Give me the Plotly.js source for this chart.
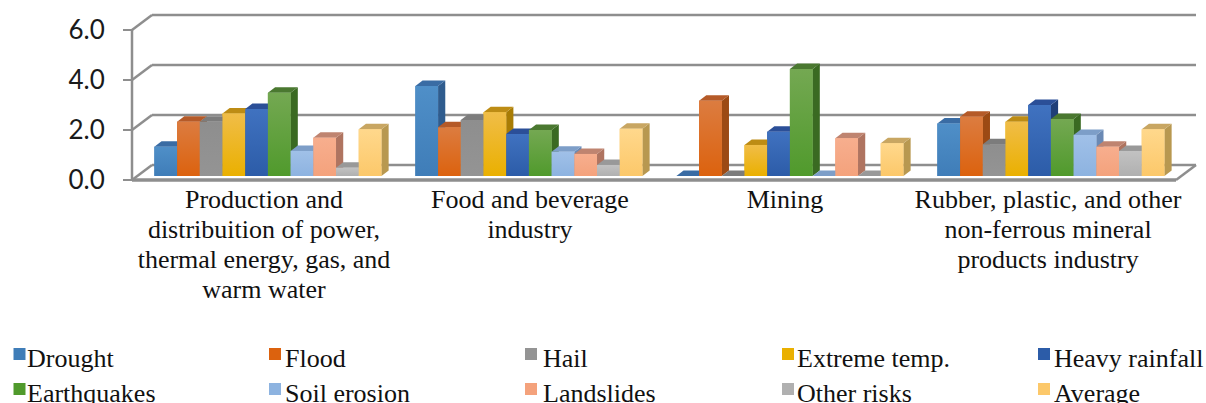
<!DOCTYPE html>
<html>
<head>
<meta charset="utf-8">
<script src="https://cdn.plot.ly/plotly-3.0.1.min.js"></script>
<style>html,body{margin:0;padding:0;background:#fff;overflow:hidden}#chart{width:1206px;height:403px}</style>
</head>
<body>
<div id="chart"></div>
<script>
// Industries along the horizontal axis, one array entry per label line
const categoryLines = [
  ["Production and", "distribuition of power,", "thermal energy, gas, and", "warm water"],
  ["Food and beverage", "industry"],
  ["Mining"],
  ["Rubber, plastic, and other", "non-ferrous mineral", "products industry"]
];
const seriesNames = ["Drought", "Flood", "Hail", "Extreme temp.", "Heavy rainfall",
                     "Earthquakes", "Soil erosion", "Landslides", "Other risks", "Average"];

// Risk scores per industry
const drought      = [1.17, 3.60, 0.00, 2.10];
const flood        = [2.17, 1.95, 3.01, 2.37];
const hail         = [2.17, 2.24, 0.00, 1.27];
const extremeTemp  = [2.50, 2.55, 1.24, 2.17];
const heavyRainfall= [2.68, 1.68, 1.77, 2.84];
const earthquakes  = [3.33, 1.84, 4.28, 2.28];
const soilErosion  = [1.00, 0.97, 0.00, 1.64];
const landslides   = [1.53, 0.88, 1.51, 1.17];
const otherRisks   = [0.33, 0.44, 0.00, 1.00];
const average      = [1.87, 1.89, 1.31, 1.87];
const allSeries = [drought, flood, hail, extremeTemp, heavyRainfall,
                   earthquakes, soilErosion, landslides, otherRisks, average];

const yTicks = [0, 2, 4, 6];

// Face colours of each column: front gradient (top, bottom), roof, right side
const frontTop    = ["#4f8fc8","#dc7c40","#8e8e8e","#f0bd48","#4072c0","#74a852","#a0c0e8","#f7ae8e","#c2c2c2","#ffd88c"];
const frontBottom = ["#3f7db8","#dc620e","#949494","#eab000","#2c5ca8","#509a2c","#8db3e0","#f4a27c","#b0b0b0","#fcc86a"];
const roofColor   = ["#3a6ca4","#b55a28","#7c7c7c","#bd8c14","#2b4f98","#4a7830","#7d9ec8","#bf8470","#999999","#c8a662"];
const sideColor   = ["#2f5c8e","#9c4a14","#696969","#a87c04","#1f3e78","#3a6a22","#6a89b4","#af7460","#8a8a8a","#b89850"];

const GRID = "#8e8e8e";
const PITCH = 261;               // horizontal pixels per category slot
const depthX = 20 / PITCH;       // skew of the full floor depth, in x units
const depthY = 0.6;              // skew of the full floor depth, in y units
const z0 = 0.27, z1 = 0.63;      // front and back planes of the columns
const barW = 0.087;
const px = v => v / 1206, py = v => 1 - v / 403;

const skewX = z => z * depthX, skewY = z => z * depthY;

// Wall and floor outlines, projected from the same skew as the columns
const shapes = [];
const seg = (x0, y0, x1, y1, w) => shapes.push({type:"line", layer:"below", xref:"x", yref:"y",
  x0, y0, x1, y1, line:{color:GRID, width:w}});
const xEnd = 4;
yTicks.forEach(t => {
  seg(0, t, skewX(1), t + skewY(1), 2.5);
  seg(skewX(1), t + skewY(1), xEnd + skewX(1), t + skewY(1), 2.5);
});
seg(0, 0, 0, 6, 2.5);
seg(0, 0, xEnd, 0, 3.5);
seg(xEnd, 0, xEnd + skewX(1), skewY(1), 2.5);

const traces = [];
// Real bar traces hold the values; the projected faces are laid over them below
allSeries.forEach((vals, s) => {
  traces.push({type:"bar", name:seriesNames[s], showlegend:false,
    x: vals.map((_, c) => c + 0.5 + skewX(z0)),
    y: vals,
    base: skewY(z0),
    marker:{color:frontBottom[s], line:{width:0}},
    hovertemplate: seriesNames[s] + ": %{y:.2f}<extra></extra>"});
});

const face = (xs, ys, extra) => traces.push(Object.assign({type:"scatter", mode:"lines", x:xs, y:ys,
  fill:"toself", line:{width:0}, showlegend:false, hoverinfo:"skip"}, extra));

// Painter's order: left to right, so a column hides the side of its left neighbour
categoryLines.forEach((_, c) => {
  allSeries.forEach((vals, s) => {
    const v = vals[c];
    const left = c + 0.5 + skewX(z0) + (s - 5) * barW, right = left + barW;
    const y0 = skewY(z0), yTop = y0 + v;
    const dx = skewX(z1 - z0), dy = skewY(z1 - z0);
    if (v > 0) face([right, right + dx, right + dx, right, right],
                    [y0, y0 + dy, yTop + dy, yTop, y0], {fillcolor:sideColor[s]});
    face([left, right, right + dx, left + dx, left],
         [yTop, yTop, yTop + dy, yTop + dy, yTop], {fillcolor:roofColor[s]});
    if (v > 0) face([left, right, right, left, left], [y0, y0, yTop, yTop, y0],
      {fillcolor:frontBottom[s], fillgradient:{type:"vertical",
        colorscale:[[0, frontBottom[s]], [1, frontTop[s]]]}});
  });
});

// Two-row legend laid out by hand for its wide column spacing
const legendSwatchX = [13.5, 269, 525, 782, 1038];
const legendTextX = [25, 283, 541, 795, 1052];
const legendSwatchY = [348, 383];
const legendTextY = [358, 393.5];
const annotations = [];
seriesNames.forEach((name, s) => {
  const col = s % 5, row = Math.floor(s / 5);
  shapes.push({type:"rect", xref:"paper", yref:"paper",
    x0:px(legendSwatchX[col]), x1:px(legendSwatchX[col] + 12),
    y0:py(legendSwatchY[row] + 12), y1:py(legendSwatchY[row]),
    fillcolor:frontBottom[s], line:{width:0}});
  annotations.push({xref:"paper", yref:"paper", x:px(legendTextX[col]), y:py(legendTextY[row]),
    xanchor:"left", yanchor:"middle", showarrow:false, text:name,
    font:{family:"Liberation Serif", size:26, color:"#111"}});
});

const layout = {
  width:1206, height:403, margin:{l:0, r:0, t:0, b:0, pad:0},
  paper_bgcolor:"#fff", plot_bgcolor:"rgba(0,0,0,0)",
  barmode:"group", bargap:0.13, bargroupgap:0, showlegend:false,
  xaxis:{domain:[px(128), 1], range:[-4/PITCH, (1206-132)/PITCH], showgrid:false, zeroline:false,
    showline:false, ticks:"", tickmode:"array",
    tickvals:[(264-132)/PITCH, (530-132)/PITCH, (785-132)/PITCH, (1048-132)/PITCH],
    ticktext:categoryLines.map(lines => lines.map(l => '<span style="font-size:26px">' + l + '</span>').join("<br>")),
    tickfont:{family:"Liberation Serif", size:23, color:"#111"}, tickangle:0, ticklabelstandoff:-1, automargin:false},
  yaxis:{domain:[py(185), py(10)], range:[-0.2, 6.8], anchor:"free", position:px(132),
    showgrid:false, zeroline:false, showline:false, ticks:"outside", ticklen:9, tickwidth:2, tickcolor:GRID,
    tickmode:"array", tickvals:yTicks, ticktext:yTicks.map(t => t.toFixed(1)), ticklabelstandoff:13,
    tickfont:{family:"Lato", size:26, color:"#1a1a1a"}, automargin:false},
  shapes, annotations
};
Plotly.newPlot("chart", traces, layout, {displayModeBar:false, responsive:false});
</script>
</body>
</html>
